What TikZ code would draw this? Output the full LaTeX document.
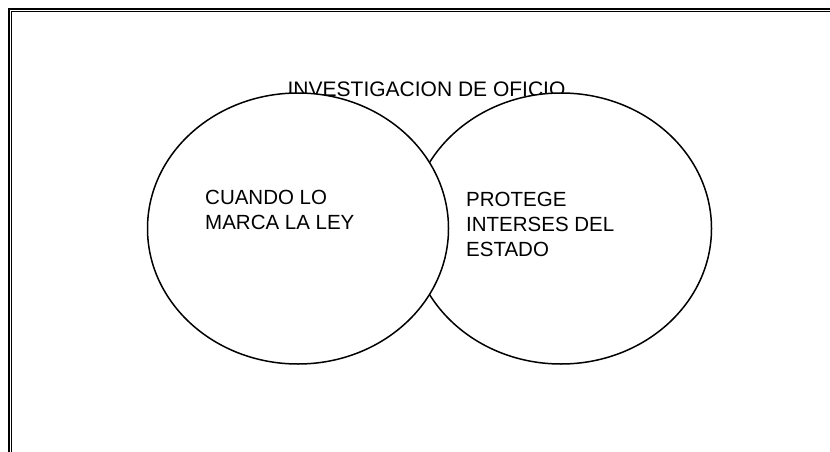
\documentclass[tikz,border=0pt]{standalone}
\usepackage{fontspec}
\setmainfont{Liberation Sans}
\usetikzlibrary{shapes.geometric}
\begin{document}
\begin{tikzpicture}[x=1pt,y=-1pt,
  bubble/.style={ellipse,draw=black,line width=1.5pt,fill=white,minimum width=301pt,minimum height=271pt,inner sep=0pt},
  label/.style={anchor=base west,font=\fontsize{20.5pt}{25pt}\selectfont,inner sep=0pt,align=left}]
\useasboundingbox (0,0) rectangle (830,452);
\fill[white] (0,0) rectangle (830,452);
% frame
\draw[line width=2.4pt] (9,460) -- (9,9) -- (840,9);
\draw[line width=0.9pt] (11.8,460) -- (11.8,11.8) -- (840,11.8);
% title
\node[anchor=base,font=\fontsize{21pt}{25pt}\selectfont,inner sep=0pt] (title) at (426.5,96) {INVESTIGACION DE OFICIO};
% circles
\node[bubble] (right) at (561,228.5) {};
\node[bubble] (left) at (298,228.5) {};
% texts
\node[label] (t1) at (205,204.5) {CUANDO LO};
\node[label] (t2) at (205,229.5) {MARCA LA LEY};
\node[label] (r1) at (466,206.5) {PROTEGE};
\node[label] (r2) at (466,231.5) {INTERSES DEL};
\node[label] (r3) at (466,256.5) {ESTADO};
\end{tikzpicture}
\end{document}
